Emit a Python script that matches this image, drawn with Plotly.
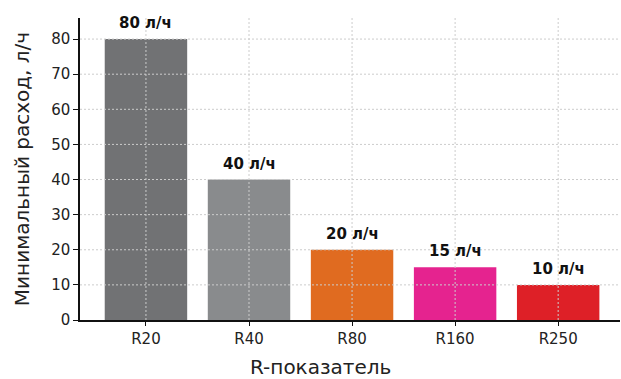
import plotly.graph_objects as go

categories = ["R20", "R40", "R80", "R160", "R250"]
values = [80, 40, 20, 15, 10]
labels = ["80 л/ч", "40 л/ч", "20 л/ч", "15 л/ч", "10 л/ч"]
colors = ["#717274", "#898b8d", "#e06b20", "#e5238f", "#de2027"]
y_ticks = [0, 10, 20, 30, 40, 50, 60, 70, 80]

FONT = "DejaVu Sans"
GRID = dict(color="#cccccc", width=1, dash="2px,2px")

fig = go.Figure()
fig.add_trace(go.Bar(
    x=categories, y=values, marker=dict(color=colors, line=dict(width=0)),
    width=0.8, cliponaxis=False,
))

annotations = []
for c, v, lab in zip(categories, values, labels):
    annotations.append(dict(x=c, y=v, xref="x", yref="y", text="<b>" + lab + "</b>",
                            showarrow=False, yanchor="bottom", yshift=5,
                            font=dict(family=FONT, size=15, color="#111111")))
annotations.append(dict(x=0.446, y=0, xref="paper", yref="paper", yanchor="top", xanchor="center",
                        yshift=-33, text="R-показатель", showarrow=False,
                        font=dict(family=FONT, size=20, color="#222222")))

shapes = []
for t in y_ticks[1:]:
    shapes.append(dict(type="line", xref="x domain", yref="y", x0=0, x1=1, y0=t, y1=t,
                       line=GRID, layer="above"))
for c in categories:
    shapes.append(dict(type="line", xref="x", yref="y domain", x0=c, x1=c, y0=0, y1=1,
                       line=GRID, layer="above"))

fig.update_layout(
    width=621, height=379,
    margin=dict(l=80, r=1, t=18, b=59),
    paper_bgcolor="white", plot_bgcolor="white",
    showlegend=False, shapes=shapes, annotations=annotations,
    font=dict(family=FONT, color="#222222"),
)
fig.update_xaxes(
    range=[-0.64, 4.6], showgrid=False, showline=True, linecolor="#111111", linewidth=1.5,
    ticks="outside", ticklen=4, tickcolor="#111111",
    tickfont=dict(family=FONT, size=15, color="#222222"),
)
fig.update_yaxes(
    range=[0, 86], tickvals=y_ticks, showgrid=False, zeroline=False,
    showline=True, linecolor="#111111", linewidth=1.5,
    ticks="outside", ticklen=5, tickcolor="#111111",
    tickfont=dict(family=FONT, size=15, color="#222222"),
    title=dict(text="Минимальный расход, л/ч", font=dict(family=FONT, size=20, color="#222222"), standoff=16),
)

fig.write_html("out.html")
